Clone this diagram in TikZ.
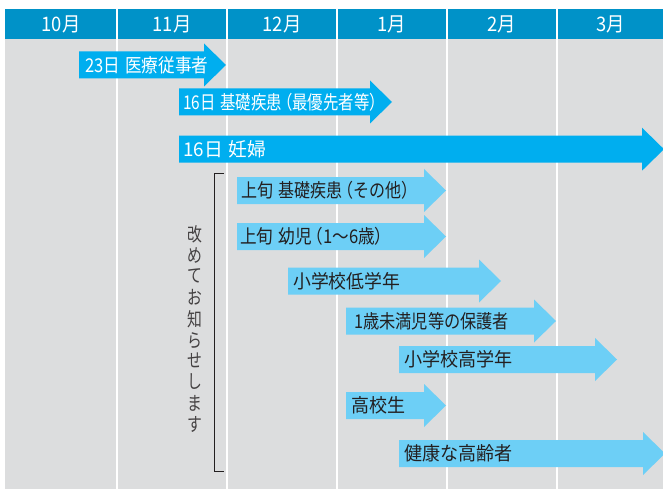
\documentclass[tikz,border=0pt]{standalone}
\usepackage{fontspec}
\usepackage{graphicx}
\newfontfamily\jp{Noto Sans CJK JP}
\newfontfamily\jph{Noto Sans CJK JP}[RawFeature=+halt]
\definecolor{hdr}{RGB}{0,146,200}
\definecolor{bggray}{RGB}{220,221,222}
\definecolor{darkarr}{RGB}{0,174,239}
\definecolor{lightarr}{RGB}{109,207,246}
\definecolor{inkc}{RGB}{35,31,32}
\newsavebox\lblbox
\newcommand\fitto[2]{\sbox\lblbox{#2}\edef\tmpw{\the\wd\lblbox}\pgfmathsetmacro\fitratio{#1/\tmpw}\scalebox{\fitratio}[1]{\usebox\lblbox}}
\newcommand\lp{\hspace{.2em}{\jph （}}
\newcommand\rp{{\jph ）}}
\newcommand\sarrow[4]{%
  \fill[#4] (#1,#3-13.5) -- (#2-22,#3-13.5) -- (#2-22,#3-21.5) -- (#2,#3)
    -- (#2-22,#3+21.5) -- (#2-22,#3+13.5) -- (#1,#3+13.5) -- cycle;}
\tikzset{
  lbl/.style={anchor=west, inner sep=0pt, font=\jp\fontsize{19}{19}\selectfont},
  dlbl/.style={lbl, text=white},
  llbl/.style={lbl, text=inkc},
  month/.style={text=white, inner sep=0pt, font=\jp\fontsize{20}{20}\selectfont},
  gridline/.style={white, line width=1.3pt},
}
\begin{document}
\begin{tikzpicture}[x=1pt, y=-1pt]
\useasboundingbox (0,0) rectangle (663,489);
% background
\fill[bggray] (5,38.7) rectangle (663,489);
\fill[hdr] (5,9) rectangle (663,38.7);
\foreach \gx in {117,227,337,447,557}{\draw[gridline] (\gx,9) -- (\gx,489);}
% months
\node[month] (m10) at (61,24) {\scalebox{0.92}[1]{10月}};
\node[month] (m11) at (172,24) {\scalebox{0.92}[1]{11月}};
\node[month] (m12) at (282,24) {\scalebox{0.92}[1]{12月}};
\node[month] (m1) at (392,24) {\scalebox{0.92}[1]{1月}};
\node[month] (m2) at (502,24) {\scalebox{0.92}[1]{2月}};
\node[month] (m3) at (611,24) {\scalebox{0.92}[1]{3月}};
% bracket and vertical text
\coordinate (brt) at (224,173);
\coordinate (brb) at (224,471);
\draw[inkc, line width=1pt] (brt) -- ++(-10,0) |- (brb);
\node[font=\jp\fontsize{19}{20.3}\selectfont, text=inkc!85, inner sep=0pt] (vt) at (195,331.5)
  {\scalebox{0.78}[1]{\begin{tabular}{@{}c@{}}改\\め\\て\\お\\知\\ら\\せ\\し\\ま\\す\end{tabular}}};
% arrows
\sarrow{79}{226}{65}{darkarr}
\sarrow{179}{392}{102}{darkarr}
\sarrow{179}{664}{149.2}{darkarr}
\sarrow{237}{446}{190.5}{lightarr}
\sarrow{237}{446}{236.5}{lightarr}
\sarrow{288}{501}{281}{lightarr}
\sarrow{346}{556}{321}{lightarr}
\sarrow{399}{617}{359.5}{lightarr}
\sarrow{346}{446}{405.5}{lightarr}
\sarrow{399}{665}{453.5}{lightarr}
% labels
\node[dlbl] (l1) at (85,65) {\fitto{123}{23日\hspace{.3em}医療従事者}};
\node[dlbl] (l2) at (183,102) {\fitto{194}{16日\hspace{.3em}基礎疾患\lp 最優先者等\rp}};
\node[dlbl] (l3) at (183,149.2) {\fitto{83}{16日\hspace{.3em}妊婦}};
\node[llbl] (l4) at (241.5,190.5) {\fitto{168}{上旬\hspace{.3em}基礎疾患\lp その他\rp}};
\node[llbl] (l5) at (240,236.5) {\fitto{143}{上旬\hspace{.3em}幼児\lp 1～6歳\rp}};
\node[llbl] (l6) at (293,281) {\fitto{107}{小学校低学年}};
\node[llbl] (l7) at (354,321) {\fitto{155}{1歳未満児等の保護者}};
\node[llbl] (l8) at (404,359.5) {\fitto{108.5}{小学校高学年}};
\node[llbl] (l9) at (351.5,405.5) {\fitto{54}{高校生}};
\node[llbl] (l10) at (404,453.5) {\fitto{108.5}{健康な高齢者}};
\end{tikzpicture}
\end{document}
